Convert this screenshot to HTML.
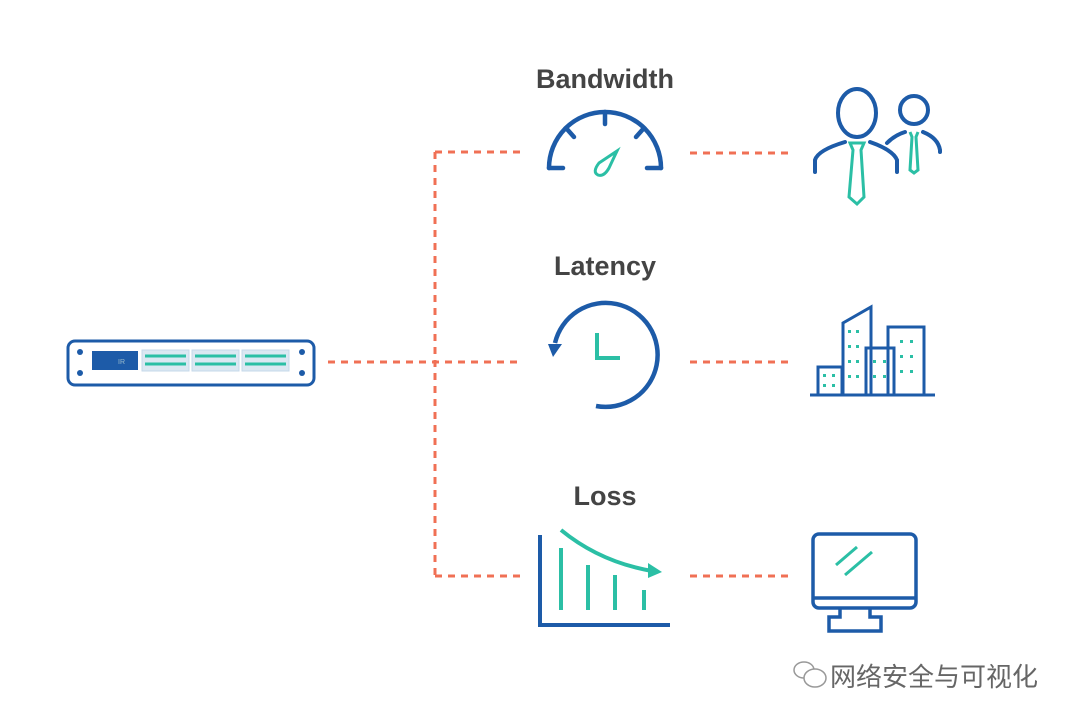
<!DOCTYPE html>
<html><head><meta charset="utf-8"><style>
body{margin:0;background:#fff;width:1072px;height:720px;overflow:hidden}
svg{display:block}
</style></head><body>
<svg width="1072" height="720" viewBox="0 0 1072 720" xmlns="http://www.w3.org/2000/svg">
<g fill="none" stroke="#f07055" stroke-width="3" stroke-dasharray="7 6">
<line x1="328" y1="362" x2="520" y2="362"/>
<line x1="435" y1="152" x2="435" y2="576"/>
<line x1="435" y1="152" x2="520" y2="152"/>
<line x1="435" y1="576" x2="520" y2="576"/>
<line x1="690" y1="153" x2="790" y2="153"/>
<line x1="690" y1="362" x2="790" y2="362"/>
<line x1="690" y1="576" x2="790" y2="576"/>
</g>
<!-- server -->
<rect x="68" y="341" width="246" height="44" rx="7" fill="#fff" stroke="#1d5ba8" stroke-width="3"/>
<rect x="92" y="351" width="46" height="19" fill="#1d5ba8"/>
<text x="118" y="364" font-family="Liberation Sans,sans-serif" font-size="7" fill="#9bc">IR</text>
<g fill="#dbe8f2" stroke="#c6d8ea"><rect x="142" y="350" width="47" height="21"/><rect x="192" y="350" width="47" height="21"/><rect x="242" y="350" width="47" height="21"/></g>
<g stroke="#2bbfa5" stroke-width="3"><line x1="145" y1="356" x2="186" y2="356"/><line x1="145" y1="364" x2="186" y2="364"/><line x1="195" y1="356" x2="236" y2="356"/><line x1="195" y1="364" x2="236" y2="364"/><line x1="245" y1="356" x2="286" y2="356"/><line x1="245" y1="364" x2="286" y2="364"/></g>
<g fill="#1d5ba8"><circle cx="80" cy="352" r="3"/><circle cx="80" cy="373" r="3"/><circle cx="302" cy="352" r="3"/><circle cx="302" cy="373" r="3"/></g>
<!-- labels -->
<g font-family="Liberation Sans,sans-serif" font-weight="bold" font-size="27" fill="#444" text-anchor="middle">
<text x="605" y="88">Bandwidth</text><text x="605" y="275">Latency</text><text x="605" y="505">Loss</text></g>
<!-- gauge -->
<g stroke="#1d5ba8" stroke-width="4.5" fill="none" stroke-linecap="round">
<path d="M549 168 A56 56 0 0 1 661 168"/>
<line x1="549" y1="168" x2="563" y2="168"/><line x1="647" y1="168" x2="661" y2="168"/>
<line x1="605" y1="112" x2="605" y2="124"/><line x1="566" y1="128" x2="574" y2="137"/><line x1="644" y1="128" x2="636" y2="137"/>
</g>
<path d="M617 151 L599 163 Q592 172 598 175 Q604 177 609 168 Z" fill="none" stroke="#2bbfa5" stroke-width="3"/>
<!-- clock -->
<path d="M596 406 A52 52 0 1 0 555 343" fill="none" stroke="#1d5ba8" stroke-width="4.5"/>
<path d="M548 344 L562 344 L553 357 Z" fill="#1d5ba8"/>
<path d="M597 333 V358 H620" fill="none" stroke="#2bbfa5" stroke-width="4"/>
<!-- loss -->
<path d="M540 535 V625 H670" fill="none" stroke="#1d5ba8" stroke-width="4"/>
<g stroke="#2bbfa5" stroke-width="4"><line x1="561" y1="548" x2="561" y2="610"/><line x1="588" y1="565" x2="588" y2="610"/><line x1="615" y1="575" x2="615" y2="610"/><line x1="644" y1="590" x2="644" y2="610"/></g>
<path d="M561 530 Q600 562 652 571" fill="none" stroke="#2bbfa5" stroke-width="4"/>
<path d="M648 563 L662 572 L648 578 Z" fill="#2bbfa5"/>
<!-- people -->
<g fill="none" stroke="#1d5ba8" stroke-width="4" stroke-linecap="round">
<ellipse cx="857" cy="113" rx="19" ry="24"/>
<path d="M815 172 V160 Q818 150 845 142"/><path d="M870 142 Q893 150 897 160 V172"/>
<circle cx="914" cy="110" r="14"/>
<path d="M887 143 Q895 135 905 132"/><path d="M923 132 Q938 138 940 150 V152"/>
</g>
<g fill="none" stroke="#2bbfa5" stroke-width="3"><path d="M850 143 L853 150 L849 197 L857 204 L864 197 L861 150 L864 143 Z"/><path d="M910 132 L912 137 L910 170 L914 173 L918 170 L916 137 L918 132"/></g>
<!-- buildings -->
<g fill="none" stroke="#1d5ba8" stroke-width="3">
<line x1="810" y1="395" x2="935" y2="395"/>
<rect x="818" y="367" width="24" height="28"/>
<path d="M843 395 V323 L871 307 V395"/>
<rect x="888" y="327" width="36" height="68"/>
<rect x="866" y="348" width="28" height="47"/>
</g>
<g fill="#2bbfa5"><rect x="848" y="330" width="3" height="3"/><rect x="856" y="330" width="3" height="3"/><rect x="848" y="345" width="3" height="3"/><rect x="856" y="345" width="3" height="3"/><rect x="848" y="360" width="3" height="3"/><rect x="856" y="360" width="3" height="3"/><rect x="848" y="375" width="3" height="3"/><rect x="856" y="375" width="3" height="3"/><rect x="873" y="360" width="3" height="3"/><rect x="883" y="360" width="3" height="3"/><rect x="873" y="375" width="3" height="3"/><rect x="883" y="375" width="3" height="3"/><rect x="900" y="340" width="3" height="3"/><rect x="910" y="340" width="3" height="3"/><rect x="900" y="355" width="3" height="3"/><rect x="910" y="355" width="3" height="3"/><rect x="900" y="370" width="3" height="3"/><rect x="910" y="370" width="3" height="3"/><rect x="823" y="374" width="3" height="3"/><rect x="832" y="374" width="3" height="3"/><rect x="823" y="384" width="3" height="3"/><rect x="832" y="384" width="3" height="3"/></g>
<!-- monitor -->
<g fill="none" stroke="#1d5ba8" stroke-width="3.5">
<rect x="813" y="534" width="103" height="74" rx="6"/>
<line x1="813" y1="598" x2="916" y2="598"/>
<path d="M840 608 V617 H829 V631 H881 V617 H870 V608"/>
</g>
<g stroke="#2bbfa5" stroke-width="3"><line x1="836" y1="565" x2="857" y2="547"/><line x1="845" y1="575" x2="872" y2="552"/></g>
<!-- watermark -->
<g fill="none" stroke="#999" stroke-width="1.5"><ellipse cx="804" cy="670" rx="10" ry="8"/><ellipse cx="815" cy="678" rx="11" ry="9" fill="#fff"/></g>
<text x="830" y="686" font-family="Noto Sans CJK SC,sans-serif" font-size="26" fill="#666">网络安全与可视化</text>
</svg>
</body></html>
